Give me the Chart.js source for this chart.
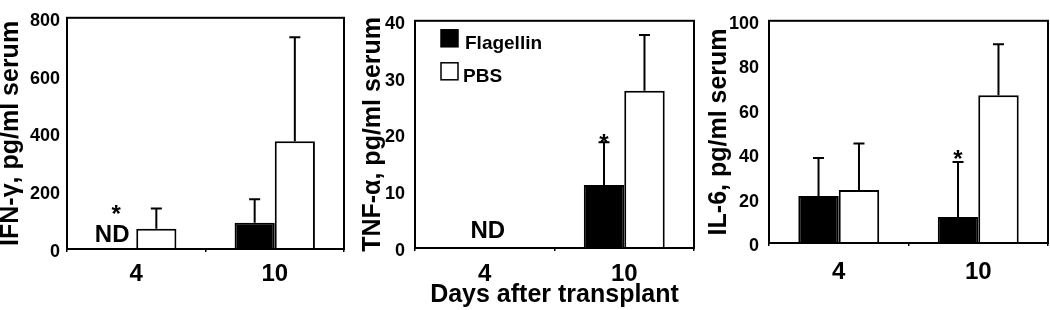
<!DOCTYPE html>
<html><head><meta charset="utf-8">
<script src="https://cdn.jsdelivr.net/npm/chart.js@4.4.1/dist/chart.umd.min.js"></script>
<style>
html,body{margin:0;padding:0;background:#fff;}
#wrap{position:relative;width:1050px;height:310px;overflow:hidden;background:#fff;}
canvas{position:absolute;top:0;}
</style></head><body>
<div id="wrap">
<canvas id="c1" width="350" height="310" style="left:0px"></canvas>
<canvas id="c2" width="340" height="310" style="left:362px"></canvas>
<canvas id="c3" width="342" height="310" style="left:708px"></canvas>
</div>
<script>
// ---- data ----
const days = ['4', '10'];
const seriesNames = ['Flagellin', 'PBS'];

// IFN-γ (pg/ml serum)
const ifnFlagellin   = [null, 91];
const ifnFlagellinSD = [null, 81];
const ifnPBS         = [70, 373];
const ifnPBSSD       = [70, 360];
const ifnTicks       = [0, 200, 400, 600, 800];

// TNF-α (pg/ml serum)
const tnfFlagellin   = [null, 11.1];
const tnfFlagellinSD = [null, 7.5];
const tnfPBS         = [null, 27.7];
const tnfPBSSD       = [null, 9.8];
const tnfTicks       = [0, 10, 20, 30, 40];

// IL-6 (pg/ml serum)
const il6Flagellin   = [21.2, 11.7];
const il6FlagellinSD = [17.0, 24.7];
const il6PBS         = [23.8, 66.5];
const il6PBSSD       = [21.0, 23.0];
const il6Ticks       = [0, 20, 40, 60, 80, 100];

// annotations (category index, series index or null = whole category, value for star)
const ifnND    = [{cat: 0, series: 0}];
const tnfND    = [{cat: 0, series: null}];
const ifnStars = [{cat: 0, series: 0, value: 137}];
const tnfStars = [{cat: 1, series: 0, value: 19.4}];
const il6Stars = [{cat: 1, series: 0, value: 40.2}];

// ---- drawing ----
const FAM = "'Liberation Sans', Arial, Helvetica, sans-serif";
Chart.defaults.font.family = FAM;
Chart.defaults.color = '#000';

function barX(chart, cat, series) {
  const xs = chart.scales.x;
  const center = xs.getPixelForValue(cat);
  if (series === null) return center;
  const meta = chart.getDatasetMeta(series);
  const el = meta.data[cat];
  if (el && isFinite(el.x)) return el.x;
  const other = chart.getDatasetMeta(1 - series).data[cat];
  const w = other ? other.width : 0;
  return center + (series === 0 ? -w / 2 : w / 2);
}

function extrasPlugin(opts) {
  return {
    id: 'extras',
    afterDatasetsDraw(chart) {
      const ctx = chart.ctx;
      const ca = chart.chartArea;
      const ys = chart.scales.y;
      ctx.save();
      ctx.strokeStyle = '#000';
      ctx.lineWidth = 2;
      // error bars (upper only)
      chart.data.datasets.forEach((ds, di) => {
        const meta = chart.getDatasetMeta(di);
        ds.sd.forEach((sd, i) => {
          if (sd == null || ds.data[i] == null) return;
          const x = meta.data[i].x;
          const y0 = ys.getPixelForValue(ds.data[i]);
          const y1 = ys.getPixelForValue(ds.data[i] + sd);
          ctx.beginPath();
          ctx.moveTo(x, y0); ctx.lineTo(x, y1);
          ctx.moveTo(x - 5.5, y1); ctx.lineTo(x + 5.5, y1);
          ctx.stroke();
        });
      });
      // frame
      ctx.lineWidth = 2;
      ctx.strokeRect(ca.left, ca.top, ca.right - ca.left, ca.bottom - ca.top);
      // ND labels
      ctx.fillStyle = '#000';
      ctx.font = 'bold 24px ' + FAM;
      ctx.textAlign = 'center';
      ctx.textBaseline = 'alphabetic';
      (opts.nd || []).forEach(a => {
        const x = barX(chart, a.cat, a.series);
        ctx.fillText('ND', x + (a.series === null ? 3 : -4), ys.getPixelForValue(0) - opts.ndLift);
      });
      // stars
      ctx.font = 'bold 24px ' + FAM;
      (opts.stars || []).forEach(a => {
        const x = barX(chart, a.cat, a.series);
        ctx.fillText('*', x, ys.getPixelForValue(a.value) + 13);
      });
      // legend
      if (opts.legend) {
        ctx.font = 'bold 19px ' + FAM;
        ctx.textAlign = 'left';
        chart.data.datasets.forEach((ds, di) => {
          const bx = ca.left + 26, by = ca.top + 9 + di * 33;
          ctx.fillStyle = ds.backgroundColor;
          ctx.fillRect(bx, by, 17, 17);
          ctx.lineWidth = 1.5;
          ctx.strokeRect(bx, by, 17, 17);
          ctx.fillStyle = '#000';
          ctx.fillText(ds.label, ca.left + 50 - di * 2, by + 19.5);
        });
      }
      ctx.restore();
    }
  };
}

function makeChart(id, cfg) {
  const datasets = [
    {label: seriesNames[0], data: cfg.flag, sd: cfg.flagSD, backgroundColor: '#000'},
    {label: seriesNames[1], data: cfg.pbs, sd: cfg.pbsSD, backgroundColor: '#fff'}
  ].map(d => Object.assign(d, {
    borderColor: '#000', borderWidth: 2, borderSkipped: 'start',
    categoryPercentage: 0.58, barPercentage: 1.0
  }));
  const tickArr = cfg.ticks;
  return new Chart(document.getElementById(id), {
    type: 'bar',
    data: {labels: days, datasets},
    options: {
      responsive: false,
      animation: false,
      events: [],
      layout: {padding: {top: cfg.padTop, right: cfg.padRight, left: 0, bottom: 0}},
      plugins: {legend: {display: false}, tooltip: {enabled: false}},
      scales: {
        x: {
          grid: {display: true, drawOnChartArea: false, drawTicks: true, tickLength: 3,
                 offset: true, color: '#000', lineWidth: 1.5},
          border: {display: false},
          ticks: {font: {size: 24, weight: 'bold'}, color: '#000', padding: cfg.xPad, maxRotation: 0},
          title: cfg.xTitle ? {display: true, text: cfg.xTitle, color: '#000',
                 font: {size: 25, weight: 'bold', lineHeight: 1.2}, padding: 0} : {display: false},
          afterFit: s => { s.height = cfg.xH; }
        },
        y: {
          min: tickArr[0], max: tickArr[tickArr.length - 1],
          afterBuildTicks: s => { s.ticks = tickArr.map(v => ({value: v})); },
          grid: {display: false, drawTicks: false},
          border: {display: false},
          ticks: {font: {size: 18, weight: 'bold'}, color: '#000', padding: cfg.yPad, labelOffset: 3},
          title: {display: true, text: cfg.yTitle, color: '#000',
                  font: {size: 25, weight: 'bold', lineHeight: 0.88}, padding: 0},
          afterFit: s => { s.width = cfg.yW; }
        }
      }
    },
    plugins: [extrasPlugin(cfg)]
  });
}

makeChart('c1', {
  flag: ifnFlagellin, flagSD: ifnFlagellinSD, pbs: ifnPBS, pbsSD: ifnPBSSD, ticks: ifnTicks,
  yTitle: 'IFN-γ, pg/ml serum', padTop: 11, padRight: 6, yW: 67, xH: 61, xPad: 8, yPad: 7,
  nd: ifnND, ndLift: 7.5, stars: ifnStars
});
makeChart('c2', {
  flag: tnfFlagellin, flagSD: tnfFlagellinSD, pbs: tnfPBS, pbsSD: tnfPBSSD, ticks: tnfTicks,
  yTitle: 'TNF-α, pg/ml serum', xTitle: 'Days after transplant',
  padTop: 11, padRight: 8, yW: 53, xH: 62, xPad: 9, yPad: 10,
  nd: tnfND, ndLift: 10, stars: tnfStars, legend: true
});
makeChart('c3', {
  flag: il6Flagellin, flagSD: il6FlagellinSD, pbs: il6PBS, pbsSD: il6PBSSD, ticks: il6Ticks,
  yTitle: 'IL-6, pg/ml serum', padTop: 4, padRight: 2, yW: 61, xH: 67, xPad: 12, yPad: 10,
  stars: il6Stars
});
</script>
</body></html>
